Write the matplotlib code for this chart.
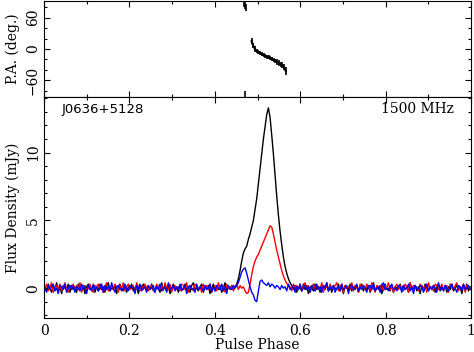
import numpy as np
import matplotlib.pyplot as plt
from matplotlib.ticker import MultipleLocator, FormatStrFormatter

# Pulse profile of J0636+5128 at 1500 MHz, 256 phase bins
stokes_i = [
    0.1, -0.2, 0.3, 0.0, -0.3, 0.2, -0.1, 0.4, -0.2, 0.1, -0.4, 0.2, 0.0, -0.1, 0.3, -0.3,
    0.2, -0.1, 0.1, -0.3, 0.3, 0.0, -0.2, 0.2, -0.4, 0.1, 0.3, -0.1, 0.0, 0.2, -0.3, 0.1,
    -0.2, 0.3, -0.1, 0.1, -0.3, 0.2, 0.4, -0.2, 0.0, -0.1, 0.2, -0.4, 0.1, 0.3, -0.2, 0.0,
    0.2, -0.3, 0.1, -0.1, 0.3, -0.2, 0.0, 0.2, -0.4, 0.1, -0.1, 0.3, 0.0, -0.2, 0.2, -0.1,
    0.3, -0.2, -0.1, 0.2, 0.0, -0.3, 0.4, -0.1, 0.1, -0.2, 0.2, -0.4, 0.0, 0.3, -0.1, 0.1,
    -0.3, 0.2, 0.0, -0.1, 0.3, -0.2, 0.1, -0.3, 0.2, 0.4, -0.1, 0.0, -0.2, 0.1, 0.3, -0.3,
    0.1, -0.1, 0.2, -0.4, 0.0, 0.3, -0.2, 0.1, -0.1, 0.2, -0.3, 0.0, 0.4, -0.2, 0.1, -0.1,
    0.2, -0.1, 0.1, 0.3, 0.7, 1.3, 2.0, 2.6, 2.9, 3.1, 3.6, 4.0, 4.5, 5.0, 5.8, 6.6,
    7.7, 8.8, 9.9, 11.0, 11.9, 12.8, 13.3, 12.6, 11.3, 9.9, 8.3, 6.8, 5.4, 4.2, 3.2, 2.3,
    1.6, 1.1, 0.7, 0.4, 0.2, -0.1, 0.2, -0.3, 0.1, 0.0, -0.2, 0.3, -0.1, 0.2, -0.4, 0.1,
    0.0, -0.2, 0.3, -0.1, 0.1, -0.3, 0.2, 0.0, -0.1, 0.4, -0.2, 0.1, -0.3, 0.2, 0.0, -0.1,
    0.3, -0.2, 0.1, -0.4, 0.2, 0.0, -0.1, 0.3, -0.2, 0.1, -0.1, 0.2, -0.3, 0.0, 0.3, -0.2,
    0.1, -0.1, 0.2, -0.3, 0.0, 0.4, -0.2, 0.1, -0.1, 0.2, -0.4, 0.1, 0.3, -0.1, 0.0, -0.2,
    0.2, -0.3, 0.1, 0.0, -0.1, 0.3, -0.2, 0.2, -0.1, 0.1, -0.3, 0.4, -0.1, 0.0, 0.2, -0.2,
    0.1, -0.4, 0.2, -0.1, 0.3, 0.0, -0.2, 0.1, -0.1, 0.2, -0.3, 0.1, 0.3, -0.2, 0.0, -0.1,
    0.2, -0.3, 0.1, -0.1, 0.3, -0.2, 0.0, 0.2, -0.1, 0.1, -0.4, 0.2, -0.1, 0.3, -0.2, 0.1,
]
linear = [
    -0.1, 0.3, -0.2, 0.1, 0.4, -0.3, 0.0, 0.2, -0.1, 0.3, -0.2, 0.1, 0.4, -0.1, -0.3, 0.2,
    0.0, 0.3, -0.2, 0.2, -0.1, 0.4, -0.3, 0.1, 0.2, -0.2, 0.0, 0.3, -0.1, -0.3, 0.2, 0.1,
    0.3, -0.1, 0.2, -0.3, 0.1, 0.4, -0.2, 0.0, 0.2, -0.1, 0.3, 0.1, -0.3, 0.2, 0.0, 0.4,
    -0.2, 0.1, 0.3, -0.1, 0.0, 0.2, -0.3, 0.4, 0.1, -0.2, 0.2, -0.1, 0.3, 0.0, -0.2, 0.1,
    0.2, 0.0, -0.3, 0.3, 0.1, -0.1, 0.2, -0.2, 0.4, 0.0, -0.1, 0.3, -0.3, 0.1, 0.2, -0.1,
    0.1, -0.2, 0.3, 0.2, -0.1, 0.4, -0.3, 0.1, 0.0, -0.2, 0.3, 0.2, -0.1, 0.1, -0.3, 0.3,
    0.0, 0.2, -0.1, 0.3, -0.3, 0.1, 0.2, -0.2, 0.4, 0.0, -0.1, 0.2, -0.3, 0.3, 0.1, -0.1,
    0.2, -0.2, 0.1, 0.3, -0.1, 0.2, 0.0, 0.1, -0.2, -0.4, -0.3, 0.3, 1.0, 1.6, 2.0, 2.3,
    2.5, 2.8, 3.1, 3.4, 3.7, 4.0, 4.3, 4.6, 4.5, 4.0, 3.4, 2.8, 2.3, 1.8, 1.3, 0.9,
    0.6, 0.35, 0.2, 0.1, -0.2, 0.3, 0.0, 0.2, -0.1, 0.3, -0.2, 0.1, 0.4, -0.1, 0.2, -0.3,
    0.1, 0.3, -0.2, 0.2, 0.0, -0.1, 0.4, -0.3, 0.2, 0.1, -0.2, 0.3, 0.0, -0.1, 0.2, 0.4,
    -0.2, 0.1, 0.3, -0.3, 0.2, 0.0, 0.1, -0.1, 0.4, -0.2, 0.2, 0.1, -0.3, 0.3, 0.0, 0.2,
    -0.1, 0.3, 0.1, -0.2, 0.4, 0.0, -0.3, 0.2, 0.1, -0.1, 0.3, -0.2, 0.2, 0.0, 0.4, -0.1,
    0.2, -0.3, 0.1, 0.3, -0.1, 0.2, 0.0, -0.2, 0.3, 0.1, -0.3, 0.4, -0.1, 0.2, 0.0, 0.1,
    -0.2, 0.3, 0.1, -0.1, 0.2, -0.3, 0.4, 0.0, 0.1, -0.2, 0.3, 0.2, -0.1, 0.0, 0.3, -0.2,
    0.1, 0.2, -0.3, 0.3, 0.0, -0.1, 0.2, 0.4, -0.2, 0.1, 0.0, 0.3, -0.3, 0.2, 0.1, -0.1,
]
circular = [
    0.0, -0.3, 0.2, -0.1, 0.1, 0.3, -0.2, 0.0, -0.4, 0.2, 0.1, -0.1, 0.3, -0.3, 0.0, 0.2,
    -0.1, 0.2, -0.3, 0.1, 0.0, -0.2, 0.3, -0.1, 0.1, -0.4, 0.2, 0.0, -0.2, 0.3, -0.1, 0.1,
    -0.2, 0.0, 0.3, -0.3, 0.2, -0.1, 0.1, -0.2, 0.4, 0.0, -0.3, 0.1, 0.2, -0.1, 0.0, -0.2,
    0.3, -0.1, -0.2, 0.2, 0.0, 0.1, -0.4, 0.2, -0.1, 0.3, -0.2, 0.0, 0.1, -0.3, 0.2, -0.1,
    0.0, 0.2, -0.3, 0.1, -0.1, 0.3, -0.2, 0.0, 0.1, -0.3, 0.4, -0.1, 0.0, 0.2, -0.2, 0.1,
    -0.1, 0.3, -0.2, 0.0, 0.2, -0.4, 0.1, 0.2, -0.1, 0.0, -0.3, 0.3, -0.1, 0.1, 0.0, -0.2,
    0.2, -0.1, 0.0, 0.3, -0.3, 0.1, -0.2, 0.2, 0.0, -0.1, 0.3, -0.2, 0.1, -0.4, 0.2, 0.0,
    -0.1, 0.2, 0.0, 0.2, 0.4, 0.8, 1.2, 1.4, 1.5, 1.1, 0.6, 0.1, -0.3, -0.5, -0.9, -1.0,
    -0.2, 0.5, 0.6, 0.4, 0.3, 0.2, 0.4, 0.1, 0.3, 0.2, 0.0, 0.2, 0.1, -0.1, 0.2, 0.0,
    0.1, -0.2, 0.3, -0.1, 0.0, 0.2, -0.3, 0.1, -0.1, 0.3, -0.2, 0.0, 0.2, -0.1, 0.1, -0.3,
    0.2, 0.0, -0.2, 0.3, -0.1, 0.1, -0.3, 0.2, 0.0, 0.4, -0.2, 0.1, -0.1, 0.2, -0.3, 0.0,
    0.1, -0.2, 0.3, -0.1, 0.0, 0.2, -0.4, 0.1, 0.2, -0.1, 0.0, 0.3, -0.2, 0.1, -0.1, 0.2,
    0.0, -0.3, 0.1, 0.2, -0.1, 0.3, -0.2, 0.0, 0.1, -0.3, 0.2, 0.4, -0.1, 0.0, -0.2, 0.1,
    0.3, -0.1, 0.0, -0.2, 0.2, 0.1, -0.3, 0.2, -0.1, 0.0, 0.3, -0.2, 0.1, -0.4, 0.2, 0.0,
    -0.1, 0.2, 0.1, -0.3, 0.0, 0.3, -0.2, 0.1, -0.1, 0.2, 0.0, -0.3, 0.4, -0.1, 0.1, -0.2,
    0.2, 0.0, -0.2, 0.1, 0.3, -0.1, 0.0, -0.3, 0.2, 0.1, -0.2, 0.3, -0.1, 0.0, 0.2, -0.1,
]

# Position angle (deg) with errors
pa_phase = [0.469, 0.471, 0.473, 0.470,
            0.486, 0.490, 0.494, 0.498, 0.502, 0.506, 0.510, 0.514, 0.518, 0.522,
            0.526, 0.530, 0.534, 0.538, 0.542, 0.546, 0.550, 0.554, 0.558, 0.562, 0.566]
pa_deg = [88, 84, 80, -88,
          15, 6, 0, -4, -6, -8, -10, -12, -13, -15,
          -16, -18, -19, -21, -23, -25, -27, -29, -31, -35, -42]
pa_err = [7, 7, 7, 7,
          6, 5, 5, 4, 4, 4, 4, 4, 4, 4,
          4, 4, 4, 4, 4, 5, 5, 5, 6, 6, 7]

psr_name = 'J0636+5128'
freq_label = '1500 MHz'

phase = (np.arange(len(stokes_i)) + 0.5) / len(stokes_i)

plt.rcParams['font.family'] = 'DejaVu Serif'
plt.rcParams['font.size'] = 10
plt.rcParams['axes.linewidth'] = 0.8

fig = plt.figure(figsize=(4.74, 3.52), dpi=100)
ax_pa = fig.add_axes([0.093, 0.7244, 0.9007, 0.2727])
ax = fig.add_axes([0.093, 0.0966, 0.9007, 0.6278])

for a in (ax_pa, ax):
    a.set_xlim(0, 1)
    a.xaxis.set_major_locator(MultipleLocator(0.2))
    a.xaxis.set_minor_locator(MultipleLocator(0.1))
    a.tick_params(which='both', direction='in', top=True, right=True, width=0.8)
    a.tick_params(which='major', length=4.5)
    a.tick_params(which='minor', length=2.3)
    a.tick_params(axis='y', labelrotation=90, pad=3)

# position angle panel
ax_pa.errorbar(pa_phase, pa_deg, yerr=pa_err, fmt='none', ecolor='k', elinewidth=1.2, capsize=0)
ax_pa.plot(pa_phase[4:], pa_deg[4:], color='k', lw=1.5)
ax_pa.set_ylim(-92, 92)
ax_pa.yaxis.set_major_locator(MultipleLocator(60))
ax_pa.yaxis.set_minor_locator(MultipleLocator(20))
ax_pa.tick_params(axis='x', labelbottom=False)
ax_pa.set_ylabel('P.A. (deg.)', labelpad=4)

# profile panel
ax.plot(phase, stokes_i, color='black', lw=1.0)
ax.plot(phase, linear, color='red', lw=1.0)
ax.plot(phase, circular, color='blue', lw=1.0)
ax.set_ylim(-2.2, 14.1)
ax.yaxis.set_major_locator(MultipleLocator(5))
ax.yaxis.set_minor_locator(MultipleLocator(1))
ax.xaxis.set_major_formatter(FormatStrFormatter('%g'))
ax.tick_params(axis='x', pad=4)
ax.set_xlabel('Pulse Phase', labelpad=0)
ax.set_ylabel('Flux Density (mJy)', labelpad=4)
ax.text(0.04, 0.945, psr_name, transform=ax.transAxes, fontsize=9.5,
        family='DejaVu Sans', ha='left', va='center')
ax.text(0.96, 0.945, freq_label, transform=ax.transAxes, fontsize=10,
        ha='right', va='center')

for a in (ax_pa, ax):
    for lbl in a.get_yticklabels():
        lbl.set_verticalalignment('center')

fig.savefig('out.png', dpi=100)
